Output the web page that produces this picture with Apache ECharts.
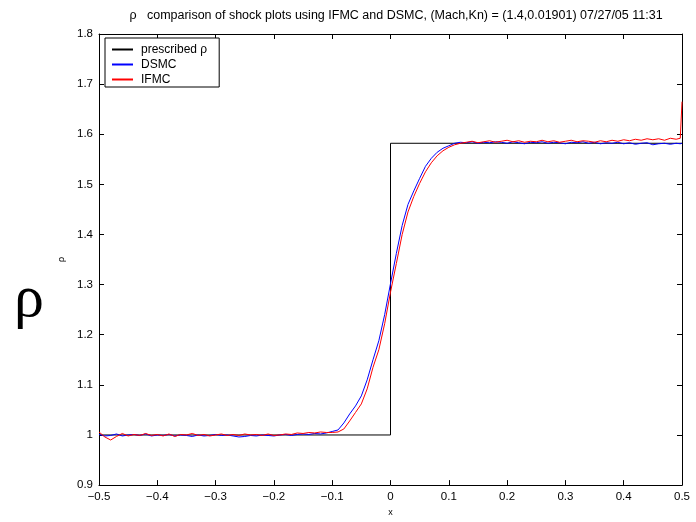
<!DOCTYPE html>
<html>
<head>
<meta charset="utf-8">
<script src="https://cdn.jsdelivr.net/npm/echarts@6/dist/echarts.min.js"></script>
<style>html,body{margin:0;padding:0;background:#fff;}#c{width:696px;height:522px;}</style>
</head>
<body>
<div id="c"></div>
<script>
const xs = [-0.50,-0.49,-0.48,-0.47,-0.46,-0.45,-0.44,-0.43,-0.42,-0.41,
-0.40,-0.39,-0.38,-0.37,-0.36,-0.35,-0.34,-0.33,-0.32,-0.31,
-0.30,-0.29,-0.28,-0.27,-0.26,-0.25,-0.24,-0.23,-0.22,-0.21,
-0.20,-0.19,-0.18,-0.17,-0.16,-0.15,-0.14,-0.13,-0.12,-0.11,
-0.10,-0.09,-0.08,-0.07,-0.06,-0.05,-0.04,-0.03,-0.02,-0.01,
0.00,0.01,0.02,0.03,0.04,0.05,0.06,0.07,0.08,0.09,
0.10,0.11,0.12,0.13,0.14,0.15,0.16,0.17,0.18,0.19,
0.20,0.21,0.22,0.23,0.24,0.25,0.26,0.27,0.28,0.29,
0.30,0.31,0.32,0.33,0.34,0.35,0.36,0.37,0.38,0.39,
0.40,0.41,0.42,0.43,0.44,0.45,0.46,0.47,0.48,0.49,
0.497,0.50];

const dsmcRho = [1.001,0.998,0.999,1.002,0.998,1.000,1.001,0.999,1.002,0.998,
1.000,0.999,1.001,0.998,1.000,0.999,0.997,1.000,0.998,0.999,
1.001,0.999,1.000,0.998,0.996,0.997,0.999,0.998,1.000,0.999,
0.998,1.000,1.001,0.999,1.001,1.002,1.001,1.003,1.002,1.004,
1.007,1.010,1.024,1.042,1.058,1.078,1.110,1.150,1.188,1.240,
1.302,1.362,1.418,1.460,1.487,1.512,1.536,1.552,1.564,1.572,
1.577,1.582,1.584,1.583,1.585,1.582,1.584,1.583,1.585,1.584,
1.582,1.585,1.583,1.581,1.584,1.583,1.585,1.582,1.584,1.583,
1.581,1.584,1.583,1.585,1.582,1.584,1.581,1.583,1.582,1.584,
1.581,1.583,1.580,1.582,1.583,1.579,1.581,1.582,1.580,1.582,
1.581,1.582];

const ifmcRho = [1.006,0.996,0.990,0.997,1.003,0.998,1.001,0.999,1.003,0.999,
1.001,0.998,1.002,0.997,1.001,1.000,1.003,0.999,1.001,0.998,
1.000,1.002,0.999,1.001,0.999,1.002,1.000,1.001,0.999,1.002,
0.999,1.000,1.002,1.001,1.004,1.003,1.005,1.004,1.006,1.005,
1.005,1.006,1.012,1.028,1.045,1.062,1.092,1.135,1.170,1.222,
1.285,1.342,1.400,1.445,1.476,1.502,1.525,1.543,1.557,1.567,
1.574,1.579,1.582,1.584,1.586,1.583,1.585,1.587,1.584,1.586,
1.588,1.585,1.587,1.584,1.586,1.585,1.588,1.585,1.587,1.584,
1.586,1.588,1.585,1.587,1.586,1.584,1.587,1.585,1.588,1.586,
1.589,1.587,1.590,1.588,1.591,1.589,1.591,1.588,1.592,1.590,
1.592,1.665];

const prescribedX = [-0.5, 0, 0, 0.5];
const prescribedRho = [1.0, 1.0, 1.582, 1.582];

const seriesNames = ['prescribed ρ', 'DSMC', 'IFMC'];
const seriesColors = ['#000000', '#0000ff', '#ff0000'];

const titleText = 'ρ   comparison of shock plots using IFMC and DSMC, (Mach,Kn) = (1.4,0.01901) 07/27/05 11:31';

const zip = (a, b) => a.map((v, i) => [v, b[i]]);
const font = 'Liberation Sans, Arial, Helvetica, sans-serif';
const fmt = v => String(+(+v).toFixed(1)).replace('-', '\u2212');

const chart = echarts.init(document.getElementById('c'), null, {renderer: 'canvas'});

const baseX = {
  type: 'value', min: -0.5, max: 0.5, interval: 0.1,
  axisLine: {show: true, onZero: false, lineStyle: {color: '#000', width: 1}},
  axisTick: {show: true, inside: true, length: 5, lineStyle: {color: '#000'}},
  splitLine: {show: false}
};
const baseY = {
  type: 'value', min: 0.9, max: 1.8, interval: 0.1,
  axisLine: {show: true, onZero: false, lineStyle: {color: '#000', width: 1}},
  axisTick: {show: true, inside: true, length: 5, lineStyle: {color: '#000'}},
  splitLine: {show: false}
};

chart.setOption({
  animation: false,
  backgroundColor: '#fff',
  title: {
    text: titleText, left: 391, textAlign: 'center', top: 4,
    textStyle: {fontFamily: font, fontSize: 12.5, fontWeight: 'normal', color: '#000'}
  },
  grid: {left: 99, right: 14, top: 34, bottom: 31, containLabel: false},
  legend: {
    orient: 'vertical', left: 105, top: 38,
    data: seriesNames.map((n, i) => ({name: n, itemStyle: {color: seriesColors[i]}})),
    icon: 'rect',
    backgroundColor: '#fff', borderColor: '#000', borderWidth: 1, borderRadius: 0,
    padding: [4, 12, 0, 7], itemGap: 0, itemWidth: 21, itemHeight: 2,
    textStyle: {fontFamily: font, fontSize: 12, color: '#000', lineHeight: 15, padding: [0, 0, 0, 3]}
  },
  xAxis: [
    Object.assign({}, baseX, {
      position: 'bottom', name: 'x', nameLocation: 'middle', nameGap: 22,
      nameTextStyle: {fontFamily: font, fontSize: 9, color: '#000'},
      axisLabel: {fontFamily: font, fontSize: 11.5, color: '#000', margin: 6, formatter: fmt}
    }),
    Object.assign({}, baseX, {position: 'top', axisLabel: {show: false}})
  ],
  yAxis: [
    Object.assign({}, baseY, {
      position: 'left', name: 'ρ', nameLocation: 'middle', nameGap: 28, nameRotate: 90,
      nameTextStyle: {fontFamily: font, fontSize: 9, color: '#000'},
      axisLabel: {fontFamily: font, fontSize: 11.5, color: '#000', margin: 6, formatter: fmt}
    }),
    Object.assign({}, baseY, {position: 'right', axisLabel: {show: false}})
  ],
  graphic: [{
    type: 'text', left: 14, top: 270,
    style: {text: 'ρ', font: '60px "Liberation Serif", "Times New Roman", serif', fill: '#000'}
  }],
  series: [
    {name: seriesNames[0], type: 'line', data: zip(prescribedX, prescribedRho),
     symbol: 'none', lineStyle: {color: seriesColors[0], width: 1}, itemStyle: {color: seriesColors[0]}},
    {name: seriesNames[1], type: 'line', data: zip(xs, dsmcRho),
     symbol: 'none', lineStyle: {color: seriesColors[1], width: 1}, itemStyle: {color: seriesColors[1]}},
    {name: seriesNames[2], type: 'line', data: zip(xs, ifmcRho),
     symbol: 'none', lineStyle: {color: seriesColors[2], width: 1}, itemStyle: {color: seriesColors[2]}}
  ]
});
</script>
</body>
</html>
